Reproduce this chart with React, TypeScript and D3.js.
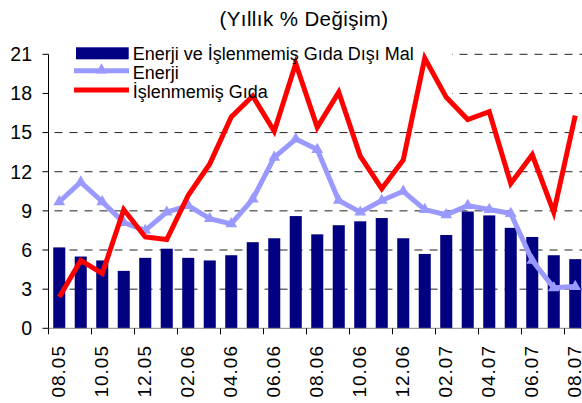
import React from "react";
import * as d3 from "d3";

const months = [
  "08.05", "09.05", "10.05", "11.05", "12.05", "01.06", "02.06", "03.06", "04.06",
  "05.06", "06.06", "07.06", "08.06", "09.06", "10.06", "11.06", "12.06", "01.07",
  "02.07", "03.07", "04.07", "05.07", "06.07", "07.07", "08.07",
];

// Enerji ve İşlenmemiş Gıda Dışı Mal (bars)
const digerMal = [
  6.2, 5.5, 5.2, 4.4, 5.4, 6.1, 5.4, 5.2, 5.6, 6.6, 6.9, 8.6, 7.2,
  7.9, 8.2, 8.45, 6.9, 5.7, 7.15, 8.95, 8.65, 7.7, 7.0, 5.6, 5.3,
];

// Enerji
const enerji = [
  9.7, 11.2, 9.7, 8.1, 7.5, 8.9, 9.4, 8.4, 8.0, 9.9, 13.1, 14.5, 13.7,
  9.8, 8.9, 9.8, 10.5, 9.1, 8.7, 9.4, 9.1, 8.8, 5.2, 3.1, 3.2,
];

// İşlenmemiş Gıda
const gida = [
  2.4, 5.2, 4.2, 9.1, 7.0, 6.8, 10.2, 12.6, 16.2, 17.8, 15.1, 20.3, 15.4,
  18.1, 13.2, 10.7, 12.9, 20.7, 17.7, 16.0, 16.6, 11.1, 13.3, 8.9, 16.3,
];

const yTicks = [0, 3, 6, 9, 12, 15, 18, 21];
const xLabels = months.filter((_, i) => i % 2 === 0);

const font = "Arial, 'Liberation Sans', sans-serif";

export default function App() {
  const width = 582;
  const height = 403;
  const x0 = 48.5;
  const step = 21.5;

  const x = d3
    .scaleBand<string>()
    .domain(months)
    .range([x0, x0 + step * months.length])
    .paddingInner(0.44)
    .paddingOuter(0.22);
  const xc = (m: string) => (x(m) || 0) + x.bandwidth() / 2;

  const y = d3.scaleLinear().domain([0, 21]).range([328.3, 54.3]);

  const line = d3
    .line<number>()
    .x((_, i) => xc(months[i]))
    .y((d) => y(d));

  const tri = d3.symbol().type(d3.symbolTriangle).size(60)() || "";

  // ticks between every second category
  const xTickPos = d3.range(0, months.length + 1, 2).map((i) => x0 + i * step);

  return (
    <svg
      width={width}
      height={height}
      style={{ position: "absolute", left: 0, top: 0, background: "#fff" }}
      fontFamily={font}
    >
      {/* title */}
      <text x={304} y={26} textAnchor="middle" fontSize={20.5} letterSpacing={0.4}>
        (Yıllık % Değişim)
      </text>

      {/* gridlines */}
      {yTicks
        .filter((t) => t > 0)
        .map((t) => (
          <line
            key={t}
            x1={x0}
            x2={width}
            y1={y(t)}
            y2={y(t)}
            stroke="#222"
            strokeDasharray="8,7"
            strokeDashoffset={-6}
          />
        ))}

      {/* legend box covers the gridlines */}
      <rect x={50} y={44} width={402} height={57} fill="#fff" />

      {/* bars */}
      {digerMal.map((v, i) => (
        <rect
          key={months[i]}
          x={x(months[i])}
          y={y(v)}
          width={x.bandwidth()}
          height={y(0) - y(v)}
          fill="#000080"
        />
      ))}

      {/* axes */}
      <line x1={x0} x2={width} y1={y(0)} y2={y(0)} stroke="#888" />
      <line x1={x0} x2={x0} y1={y(21)} y2={y(0)} stroke="#000" />
      {yTicks.map((t) => (
        <g key={t}>
          <line x1={x0 - 6} x2={x0} y1={y(t)} y2={y(t)} stroke="#000" />
          <text x={32} y={y(t)} dy="0.35em" textAnchor="end" fontSize={19.5}>
            {t}
          </text>
        </g>
      ))}
      {xTickPos.map((p) => (
        <line key={p} x1={p} x2={p} y1={y(0)} y2={y(0) + 6} stroke="#000" />
      ))}
      {xLabels.map((m) => (
        <text
          key={m}
          transform={`translate(${xc(m) - 1},345) rotate(-90)`}
          dy="0.35em"
          textAnchor="end"
          fontSize={19}
          letterSpacing={1}
        >
          {m}
        </text>
      ))}

      {/* Enerji line */}
      <path d={line(enerji) || ""} fill="none" stroke="#9999FF" strokeWidth={5} strokeLinejoin="round" />
      {enerji.map((v, i) => (
        <path key={i} d={tri} transform={`translate(${xc(months[i])},${y(v)})`} fill="#9999FF" />
      ))}

      {/* İşlenmemiş Gıda line */}
      <path d={line(gida) || ""} fill="none" stroke="#FF0000" strokeWidth={5} strokeLinejoin="miter" />

      {/* legend */}
      <rect x={76} y={47.3} width={52.7} height={12} fill="#000080" />
      <line x1={74} x2={129} y1={70.7} y2={70.7} stroke="#9999FF" strokeWidth={5} />
      <path d={tri} transform="translate(101.5,70)" fill="#9999FF" />
      <line x1={74} x2={129} y1={90} y2={90} stroke="#FF0000" strokeWidth={5} />
      <g fontSize={18}>
        <text x={132.7} y={59.5}>Enerji ve İşlenmemiş Gıda Dışı Mal</text>
        <text x={132.7} y={78.5}>Enerji</text>
        <text x={132.7} y={97.5}>İşlenmemiş  Gıda</text>
      </g>
    </svg>
  );
}
